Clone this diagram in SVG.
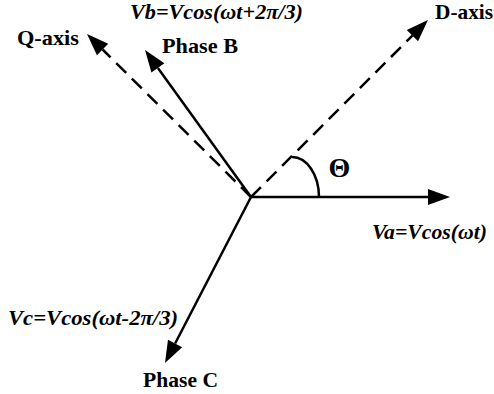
<svg xmlns="http://www.w3.org/2000/svg" width="494" height="394" viewBox="0 0 494 394">
  <style>
    .vec { stroke: #000; stroke-width: 2.5; fill: none; }
    .dash { stroke-dasharray: 14 8; }
    .lbl { font-family: "Liberation Serif", "Times New Roman", serif; font-weight: bold; font-size: 21px; fill: #000; }
    .eq { font-style: italic; }
    .theta { font-size: 28px; }
  </style>
  <defs>
    <marker id="ah" markerUnits="userSpaceOnUse" markerWidth="24" markerHeight="18" viewBox="0 -9 24 18" refX="0" refY="0" orient="auto" overflow="visible">
      <path d="M0,-8 L22,0 L0,8 Z" fill="#000"/>
    </marker>
  </defs>
  <rect width="494" height="394" fill="#fff"/>
  <g id="connectors">
    <line class="vec" x1="251" y1="197" x2="428" y2="197" marker-end="url(#ah)"/>
    <line class="vec dash" x1="251" y1="197" x2="412.4" y2="35.6" marker-end="url(#ah)"/>
    <line class="vec dash" x1="251" y1="197" x2="102.6" y2="49.5" marker-end="url(#ah)"/>
    <line class="vec" x1="251" y1="197" x2="157.9" y2="67.9" marker-end="url(#ah)"/>
    <line class="vec" x1="251" y1="197" x2="175.1" y2="343.5" marker-end="url(#ah)"/>
    <path class="vec" d="M292,157 A27,40 0 0 1 319,197"/>
  </g>
  <g id="d-axis"><text class="lbl" x="435" y="19" textLength="58" lengthAdjust="spacingAndGlyphs">D-axis</text></g>
  <g id="q-axis"><text class="lbl" x="17" y="45" textLength="62" lengthAdjust="spacingAndGlyphs">Q-axis</text></g>
  <g id="phase-b">
    <text class="lbl eq" x="130" y="19" textLength="173" lengthAdjust="spacingAndGlyphs">Vb=Vcos(ωt+2π/3)</text>
    <text class="lbl" x="162" y="53" textLength="76" lengthAdjust="spacingAndGlyphs">Phase B</text>
  </g>
  <g id="phase-a"><text class="lbl eq" x="372" y="239" textLength="115" lengthAdjust="spacingAndGlyphs">Va=Vcos(ωt)</text></g>
  <g id="phase-c">
    <text class="lbl eq" x="8" y="325" textLength="170" lengthAdjust="spacingAndGlyphs">Vc=Vcos(ωt-2π/3)</text>
    <text class="lbl" x="143" y="387" textLength="75" lengthAdjust="spacingAndGlyphs">Phase C</text>
  </g>
  <g id="theta"><text class="lbl theta" x="339.5" y="177" text-anchor="middle">Θ</text></g>
</svg>
